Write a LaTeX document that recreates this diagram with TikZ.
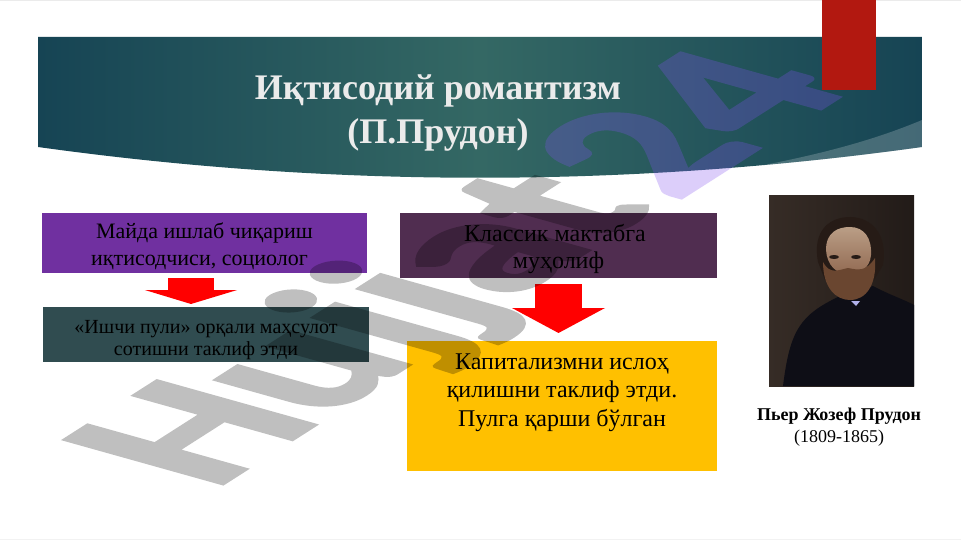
\documentclass[tikz,border=0pt]{standalone}
\usepackage{fontspec}
\setmainfont{Liberation Serif}
\newfontfamily\markfont{Carlito}[BoldFeatures={FakeBold=2}]
\usetikzlibrary{arrows.meta}

\definecolor{bandedge}{RGB}{22,68,84}
\definecolor{bandmid}{RGB}{52,104,100}
\definecolor{tabred}{RGB}{178,24,16}
\definecolor{boxpurple}{RGB}{112,48,160}
\definecolor{boxteal}{RGB}{48,76,80}
\definecolor{boxplum}{RGB}{80,45,80}
\definecolor{boxyellow}{RGB}{255,192,0}
\definecolor{markblue}{RGB}{130,80,240}
\definecolor{canvasdark}{RGB}{34,27,24}
\definecolor{canvaslight}{RGB}{54,44,38}
\definecolor{coatdark}{RGB}{14,14,22}
\definecolor{hairdark}{RGB}{38,27,22}
\definecolor{skinlight}{RGB}{186,158,134}
\definecolor{skinshade}{RGB}{146,106,82}
\definecolor{beardbrown}{RGB}{106,70,48}

\newcommand{\pushline}[1]{\rule{0pt}{#1pt}}

\tikzset{
  infobox/.style={inner sep=0pt,outer sep=0pt,align=center,text=black},
  blockarrow/.style={draw=red,-{Triangle[width=92pt,length=#1]}},
  markletters/.style={inner sep=0pt,outer sep=0pt,anchor=base west,
    font=\markfont\bfseries\fontsize{100}{100}\selectfont}
}

\begin{document}
\begin{tikzpicture}[x=1pt,y=-1pt]
  \useasboundingbox (0,0) rectangle (961,540);
  \fill[white] (0,0) rectangle (961,540);
  \fill[black!8] (0,0) rectangle (961,1);
  \fill[black!5] (0,539) rectangle (961,540);

  % title band
  \begin{scope}
    \clip (38,37) -- (922,37) -- (922,147) .. controls (627,188) and (333,188) .. (38,147) -- cycle;
    \shade[left color=bandedge,right color=bandedge,middle color=bandmid] (38,37) rectangle (922,190);
    \fill[white,opacity=.2] (922,120) .. controls (860,146) and (790,162) .. (690,178) -- (922,190) -- cycle;
  \end{scope}
  \node[infobox,text=black!8,font=\bfseries\fontsize{36}{44}\selectfont] (title) at (438,113) {Иқтисодий романтизм\\(П.Прудон)};

  \fill[tabred] (822,0) rectangle (876,90);

  % boxes
  \node[infobox,fill=boxpurple,minimum width=325pt,minimum height=60pt,font=\fontsize{22}{27}\selectfont] (small) at (204.5,243) {\pushline{23}Майда ишлаб чиқариш\\иқтисодчиси, социолог\rule{10pt}{0pt}};
  \node[infobox,fill=boxteal,minimum width=326pt,minimum height=55pt,font=\fontsize{20}{22}\selectfont] (money) at (206,334.5) {\pushline{25}«Ишчи пули» орқали маҳсулот\\сотишни таклиф этди};
  \node[infobox,fill=boxplum,minimum width=317pt,minimum height=65pt,font=\fontsize{24}{27}\selectfont] (classic) at (558.5,245.5) {\pushline{24}Классик мактабга\rule{7pt}{0pt}\\муҳолиф};
  \node[infobox,fill=boxyellow,minimum width=310pt,minimum height=130pt,font=\fontsize{24}{28.5}\selectfont] (reform) at (562,406) {Капитализмни ислоҳ\\қилишни таклиф этди.\\Пулга қарши бўлган\\[4pt]~};

  \draw[blockarrow=14pt,line width=46pt,shorten <=5pt,shorten >=3pt] ([xshift=-13.5pt]small.south) -- ([xshift=-13.5pt]small.south |- money.north);
  \draw[blockarrow=25pt,line width=47pt,shorten <=6pt,shorten >=8pt] (classic.south) -- (classic.south |- reform.north);

  % portrait
  \begin{scope}
    \clip (769,196) rectangle (914,386);
    \shade[left color=canvaslight,right color=canvasdark] (769,196) rectangle (914,386);
    \fill[coatdark] (783,386) .. controls (790,330) and (800,315) .. (840,296) -- (873,286) .. controls (890,295) and (905,300) .. (914,305) -- (914,386) -- cycle;
    \fill[hairdark] (818,262) .. controls (812,230) and (830,217) .. (850,217) .. controls (872,217) and (888,235) .. (883,265) -- (874,280) -- (825,280) -- cycle;
    \shade[top color=skinlight,bottom color=skinshade] (826,250) .. controls (826,232) and (838,227) .. (850,227) .. controls (864,227) and (872,238) .. (871,255) .. controls (870,268) and (860,274) .. (848,274) .. controls (836,274) and (827,265) .. (826,250) -- cycle;
    \fill[beardbrown] (823,262) .. controls (830,275) and (838,270) .. (848,268) .. controls (858,270) and (866,272) .. (875,258) .. controls (877,285) and (866,300) .. (850,300) .. controls (836,300) and (823,288) .. (823,262) -- cycle;
    \fill[hairdark] (834,257) ellipse (5pt and 2pt);
    \fill[hairdark] (856,257) ellipse (5pt and 2pt);
    \fill[black!25!blue!30!white] (851,301) -- (860,301) -- (856,306) -- cycle;
  \end{scope}
  \node[infobox,font=\fontsize{18}{22}\selectfont] (name) at (839,427) {\textbf{Пьер Жозеф Прудон}\\(1809-1865)};

  % watermark
  \begin{scope}[transparency group,opacity=.25]
    \begin{scope}[cm={1.77,1.13,-2.43,.68,(213,490)},transform shape]
      \node[markletters,text=black] (mark) at (0,0) {Hujjat};
    \end{scope}
  \end{scope}
  \begin{scope}[transparency group,opacity=.28]
    \begin{scope}[cm={1.77,1.13,-2.43,.68,(213,490)},transform shape]
      \node[markletters,text=markblue] (year) at (257,3) {24};
    \end{scope}
  \end{scope}
\end{tikzpicture}
\end{document}
